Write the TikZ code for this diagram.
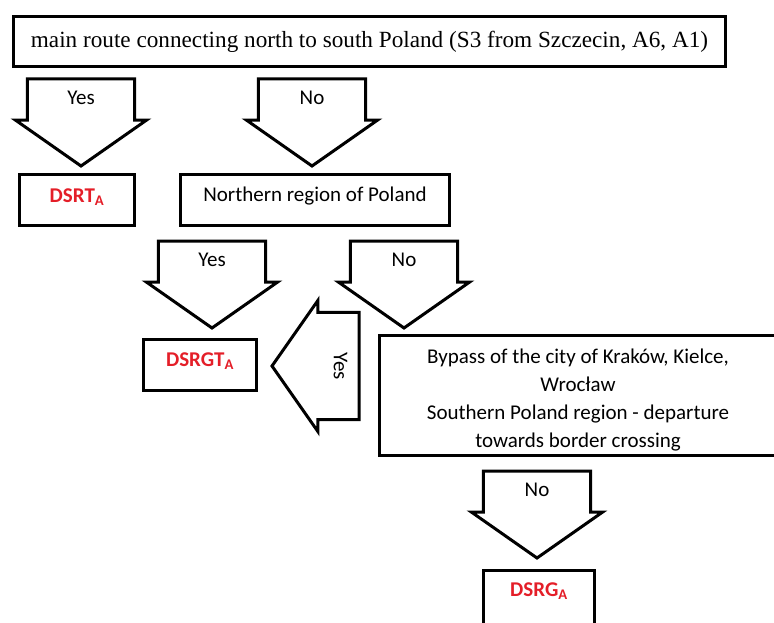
\documentclass[tikz,border=0pt]{standalone}
\usepackage{fontspec}
\setmainfont{Carlito}
\newfontfamily\timesfont{Liberation Serif}
\usetikzlibrary{shapes.arrows}
\definecolor{dsred}{RGB}{228,30,40}

\begin{document}
\begin{tikzpicture}[x=1pt, y=-1pt,
    box/.style={draw, rectangle, line width=3pt, align=center, inner sep=0pt,
      font=\fontsize{21}{28}\selectfont},
    result/.style={box, text=dsred, font=\fontsize{21}{28}\selectfont\bfseries,
      minimum width=115, minimum height=51, text height=13, text depth=9},
    bigarrow/.style={draw, single arrow, line width=3pt, inner sep=0pt,
      text width=62, align=center, text height=14, text depth=13,
      minimum height=87, minimum width=131,
      single arrow tip angle=110, shape border rotate=270, anchor=tail,
      font=\fontsize{21}{28}\selectfont}]
    \useasboundingbox (0,0) rectangle (774,623);
    \clip (0,0) rectangle (774,623);

    % Main nodes
    \node (main) [box, minimum width=712, minimum height=50, font=\fontsize{23.2}{28}\timesfont]
      at (369.5,41.5) {main route connecting north to south Poland (S3 from Szczecin, A6, A1)};

    \node (dsrt) [result] at (77,200) {DSRT\textsubscript{A}};

    \node (north) [box, minimum width=269, minimum height=51, text height=14, text depth=11]
      at (315,200) {Northern region of Poland};

    \node (dsrgt) [result, minimum width=113, text depth=11] at (200,365) {DSRGT\textsubscript{A}};

    \node (bypass) [box, minimum width=398, minimum height=120, text height=109, text depth=5] at (578,395.5)
      {Bypass of the city of Kraków, Kielce,\\ Wrocław\\ Southern Poland region - departure\\ towards border crossing};

    \node (dsrg) [result, minimum width=111, minimum height=60, text depth=20] at (539,600) {DSRG\textsubscript{A}};

    % Decision arrows
    \node (yes1) [bigarrow] at (81,77.5) {Yes};
    \node (no1) [bigarrow] at (312,77.5) {No};
    \node (yes2) [bigarrow] at (212,239.5) {Yes};
    \node (no2) [bigarrow] at (404,239.5) {No};
    \node (yes3) [bigarrow, rotate=-90] at (360.5,366) {Yes};
    \node (no3) [bigarrow] at (537,469.5) {No};
\end{tikzpicture}
\end{document}
